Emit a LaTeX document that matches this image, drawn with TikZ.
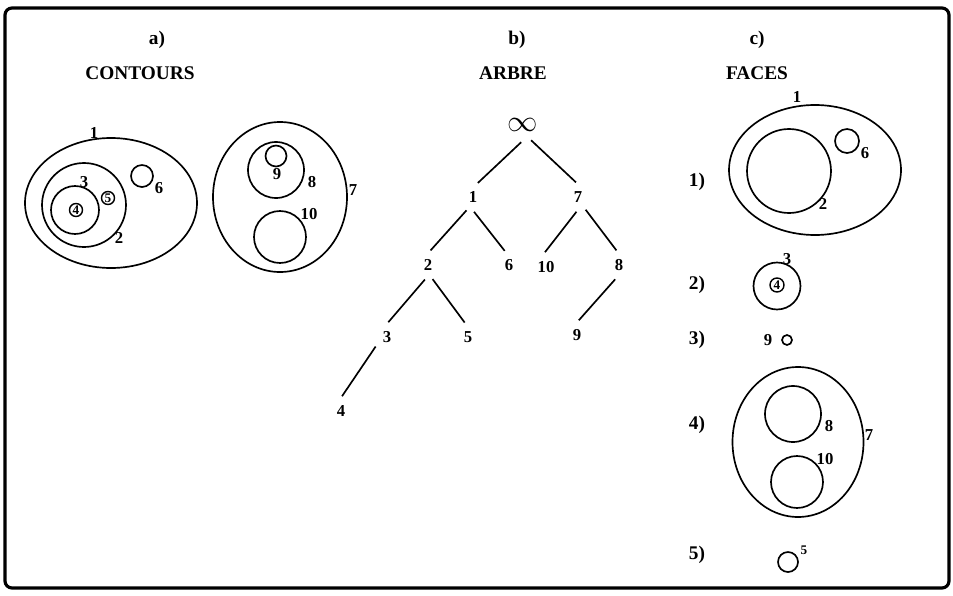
\documentclass[tikz,border=0pt]{standalone}
\usepackage{fontspec}
\setmainfont{Liberation Serif}
\usetikzlibrary{positioning}
\newcommand{\headfont}{\fontsize{11}{12}\selectfont\bfseries}
\newcommand{\numfont}{\fontsize{9.5}{10}\selectfont\bfseries}
\newcommand{\tinynum}{\fontsize{7.5}{8}\selectfont\bfseries}

\begin{document}
\begin{tikzpicture}[x=0.02cm, y=-0.02cm, line width=0.95pt,
  head/.style={font=\headfont, inner sep=1pt},
  num/.style={font=\numfont, inner sep=1pt},
  tnode/.style={circle, font=\numfont, minimum size=0.56cm, inner sep=0pt},
  circnum/.style={circle, draw, line width=0.8pt, inner sep=0pt, minimum size=0.26cm, font=\tinynum}]
\useasboundingbox (0,0) rectangle (953,595);
\draw[line width=1.8pt, rounded corners=4pt] (5,8) rectangle (949,588);

% titres
\node[head] (ta) at (157,40) {a)};
\node[head] (tca) at (140,73) {CONTOURS};
\node[head] (tb) at (517,40) {b)};
\node[head] (tcb) at (513,73) {ARBRE};
\node[head] (tc) at (757,40) {c)};
\node[head] (tcc) at (757,73) {FACES};

% a) contours
\draw (111,203) ellipse[x radius=86, y radius=65];
\draw (84,205) circle[radius=42];
\draw (75,210) circle[radius=24];
\draw (142,176) circle[radius=11];
\node[circnum] (ca4) at (76,210) {4};
\node[circnum] (ca5) at (108,198) {5};
\node[num] (a1) at (94,133) {1};
\node[num] (a2) at (119,238) {2};
\node[num] (a3) at (84,182) {3};
\node[num] (a6) at (159,188) {6};
\draw (280,197) ellipse[x radius=67, y radius=75];
\draw (276,170) circle[radius=28];
\draw (276,156) circle[radius=10.5];
\draw (280,237) circle[radius=26];
\node[num] (a7) at (353,190) {7};
\node[num] (a8) at (312,182) {8};
\node[num] (a9) at (277,174) {9};
\node[num] (a10) at (309,214) {10};

% b) arbre
\node[tnode, font=\fontsize{17}{17}\selectfont] (inf) at (523,125) {$\infty$};
\node[tnode] (n1) at (473,197) {1};
\node[tnode] (n7) at (578,197) {7};
\node[tnode] (n2) at (428,265) {2};
\node[tnode] (n6) at (509,265) {6};
\node[tnode] (n10) at (546,267) {10};
\node[tnode] (n8) at (619,265) {8};
\node[tnode] (n3) at (387,337) {3};
\node[tnode] (n5) at (468,337) {5};
\node[tnode] (n9) at (577,335) {9};
\node[tnode] (n4) at (341,411) {4};
\draw (inf.-96) -- (n1.71);
\draw (inf.-62) -- (n7.98);
\draw (n1.-116) -- (n2.80);
\draw (n1.-86) -- (n6.107);
\draw (n7.-96) -- (n10.94);
\draw (n7.-59) -- (n8.100);
\draw (n2.-102) -- (n3.85);
\draw (n2.-72) -- (n5.103);
\draw (n8.-105) -- (n9.83);
\draw (n3.-140) -- (n4.86);

% c) faces
\node[head] (r1) at (697,182) {1)};
\draw (815,170) ellipse[x radius=86, y radius=65];
\draw (789,171) circle[radius=42];
\draw (847,141) circle[radius=12];
\node[num] (c1) at (797,97) {1};
\node[num] (c2) at (823,204) {2};
\node[num] (c6) at (865,153) {6};

\node[head] (r2) at (697,285) {2)};
\draw (777,286) circle[radius=23.5];
\node[circnum, minimum size=0.28cm] (c4) at (777,285) {4};
\node[num] (c3) at (787,259) {3};

\node[head] (r3) at (697,340) {3)};
\node[num] (c9) at (768,340) {9};
\draw (787,340) circle[radius=5];

\node[head] (r4) at (697,425) {4)};
\draw (798,442) ellipse[x radius=65.5, y radius=75];
\draw (793,414) circle[radius=28];
\draw (797,482) circle[radius=26];
\node[num] (c7) at (869,435) {7};
\node[num] (c8) at (829,426) {8};
\node[num] (c10) at (825,459) {10};

\node[head] (r5) at (697,555) {5)};
\draw (788,562) circle[radius=10];
\node[num, font=\tinynum] (c5) at (804,550) {5};
\end{tikzpicture}
\end{document}
